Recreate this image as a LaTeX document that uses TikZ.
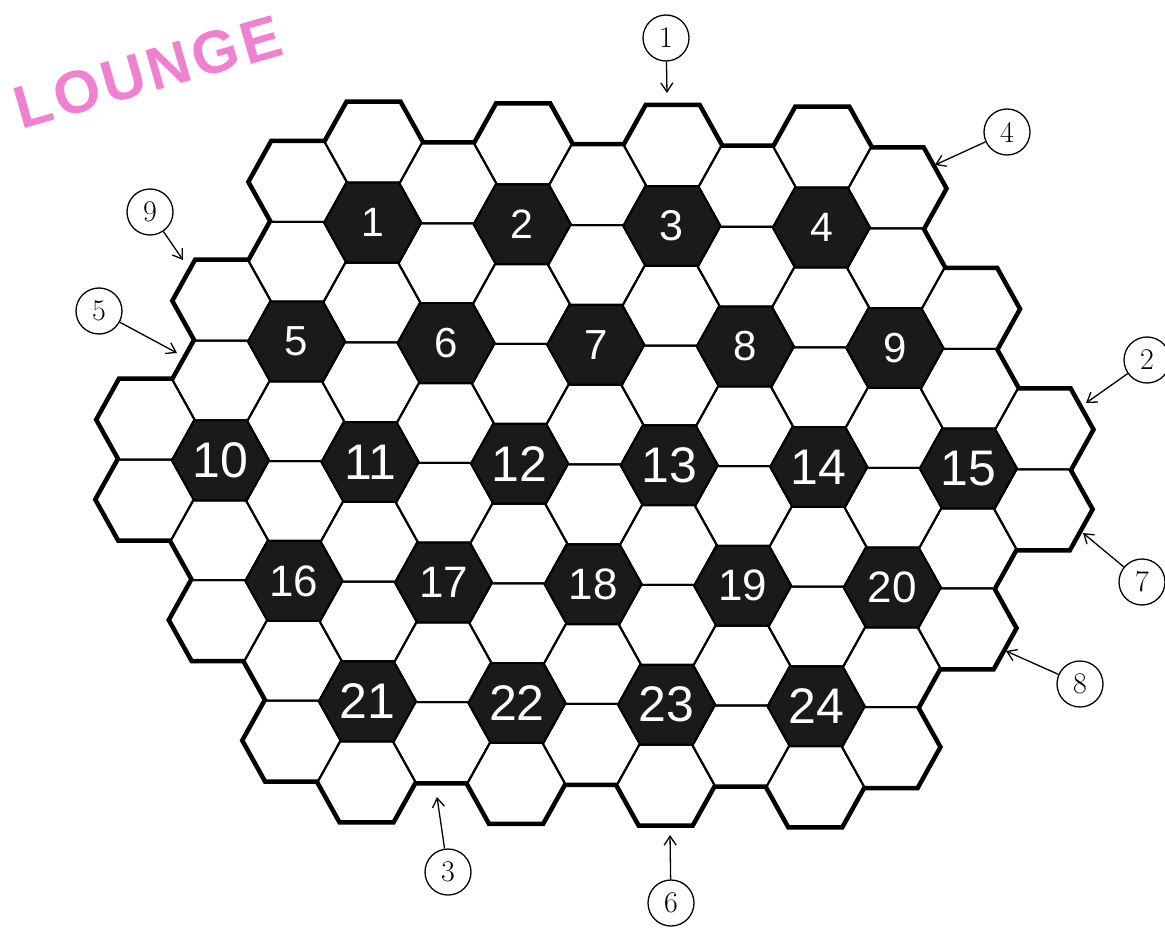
\documentclass[tikz,border=0pt]{standalone}
\usepackage{fontspec}
\newfontfamily\numfont{Liberation Sans}
\usetikzlibrary{arrows.meta}
\definecolor{lounge}{RGB}{240,128,208}
\definecolor{cellblack}{RGB}{26,26,26}
\tikzset{
  hexcell/.pic={\path[pic actions] (48.5,0) -- (26.3,-39.9) -- (-26.3,-39.9) -- (-48.5,0) -- (-26.3,39.9) -- (26.3,39.9) -- cycle;},
  edgeband/.style={draw=black, line width=7pt, line join=miter},
  blankcell/.style={fill=white},
  gridline/.style={draw=black, line width=2pt, line join=round},
  darkcell/.style={fill=cellblack, draw=black, line width=2pt, line join=round},
  numlabel/.style={text=white, inner sep=0pt, font=\numfont\fontsize{#1}{#1}\selectfont},
  tagcircle/.style={draw=black, circle, line width=1.3pt, minimum size=46pt, inner sep=0pt, font=\fontsize{30}{30}\selectfont},
  tagarrow/.style={-{Straight Barb[length=9pt,width=12pt,line width=1.3pt]}, line width=1.3pt},
}
\begin{document}
\begin{tikzpicture}[x=1pt, y=-1pt]
\useasboundingbox (0,0) rectangle (1165,928);
\fill[white] (0,0) rectangle (1165,928);

\begin{scope}[rotate around={-0.63:(669.2,465.3)}]
  % pass 1: thick band (only its outer half survives on the border)
  \foreach \c/\lo/\n in {0/-1/1,1/-4/4,2/-7/7,3/-8/8,4/-7/7,5/-8/8,6/-7/7,7/-8/8,8/-7/7,9/-8/8,10/-7/7,11/-4/4,12/-1/1}
    \foreach \k in {0,...,\n}
      \pic[edgeband] at ({669.2+(\c-7)*74.8},{465.3+39.9*(\lo+2*\k)}) {hexcell};
  % pass 2: white fill erases the band inside
  \foreach \c/\lo/\n in {0/-1/1,1/-4/4,2/-7/7,3/-8/8,4/-7/7,5/-8/8,6/-7/7,7/-8/8,8/-7/7,9/-8/8,10/-7/7,11/-4/4,12/-1/1}
    \foreach \k in {0,...,\n}
      \pic[blankcell] at ({669.2+(\c-7)*74.8},{465.3+39.9*(\lo+2*\k)}) {hexcell};
  % pass 3: thin grid lines
  \foreach \c/\lo/\n in {0/-1/1,1/-4/4,2/-7/7,3/-8/8,4/-7/7,5/-8/8,6/-7/7,7/-8/8,8/-7/7,9/-8/8,10/-7/7,11/-4/4,12/-1/1}
    \foreach \k in {0,...,\n}
      \pic[gridline] at ({669.2+(\c-7)*74.8},{465.3+39.9*(\lo+2*\k)}) {hexcell};
  % numbered black cells
  \foreach \c/\r/\t/\s in {3/-6/1/41,5/-6/2/41,7/-6/3/43,9/-6/4/41,
      2/-3/5/42,4/-3/6/42,6/-3/7/42,8/-3/8/42,10/-3/9/42,
      1/0/10/50,3/0/11/50,5/0/12/50,7/0/13/50,9/0/14/50,11/0/15/50,
      2/3/16/44,4/3/17/44,6/3/18/44,8/3/19/44,10/3/20/44,
      3/6/21/50,5/6/22/50,7/6/23/50,9/6/24/50} {
    \pic[darkcell] at ({669.2+(\c-7)*74.8},{465.3+39.9*\r}) {hexcell};
    \node[numlabel=\s] (n\t) at ({669.2+(\c-7)*74.8},{465.3+39.9*\r}) {\t};
  }
\end{scope}

% handwritten label
\node[text=lounge, rotate=16, inner sep=0pt,
      font={\numfont\bfseries\fontsize{60}{60}\selectfont\addfontfeature{LetterSpace=6}}]
      (lounge) at (148,72) {LOUNGE};

% circled markers with arrows
\node[tagcircle] (t1) at (666,38) {1};
\coordinate (p1) at (667,93);
\draw[tagarrow] (t1) -- (p1);

\node[tagcircle] (t4) at (1007,132) {4};
\coordinate (p4) at (935,165);
\draw[tagarrow] (t4) -- (p4);

\node[tagcircle] (t9) at (150,212) {9};
\coordinate (p9) at (183,260);
\draw[tagarrow] (t9) -- (p9);

\node[tagcircle] (t5) at (99,311) {5};
\coordinate (p5) at (177,353);
\draw[tagarrow] (t5) -- (p5);

\node[tagcircle] (t2) at (1147,360) {2};
\coordinate (p2) at (1086,403);
\draw[tagarrow] (t2) -- (p2);

\node[tagcircle] (t7) at (1142,582) {7};
\coordinate (p7) at (1083,533);
\draw[tagarrow] (t7) -- (p7);

\node[tagcircle] (t8) at (1080,684) {8};
\coordinate (p8) at (1006,651);
\draw[tagarrow] (t8) -- (p8);

\node[tagcircle] (t3) at (448,872) {3};
\coordinate (p3) at (437,797);
\draw[tagarrow] (t3) -- (p3);

\node[tagcircle] (t6) at (671,903) {6};
\coordinate (p6) at (670,835);
\draw[tagarrow] (t6) -- (p6);
\end{tikzpicture}
\end{document}
